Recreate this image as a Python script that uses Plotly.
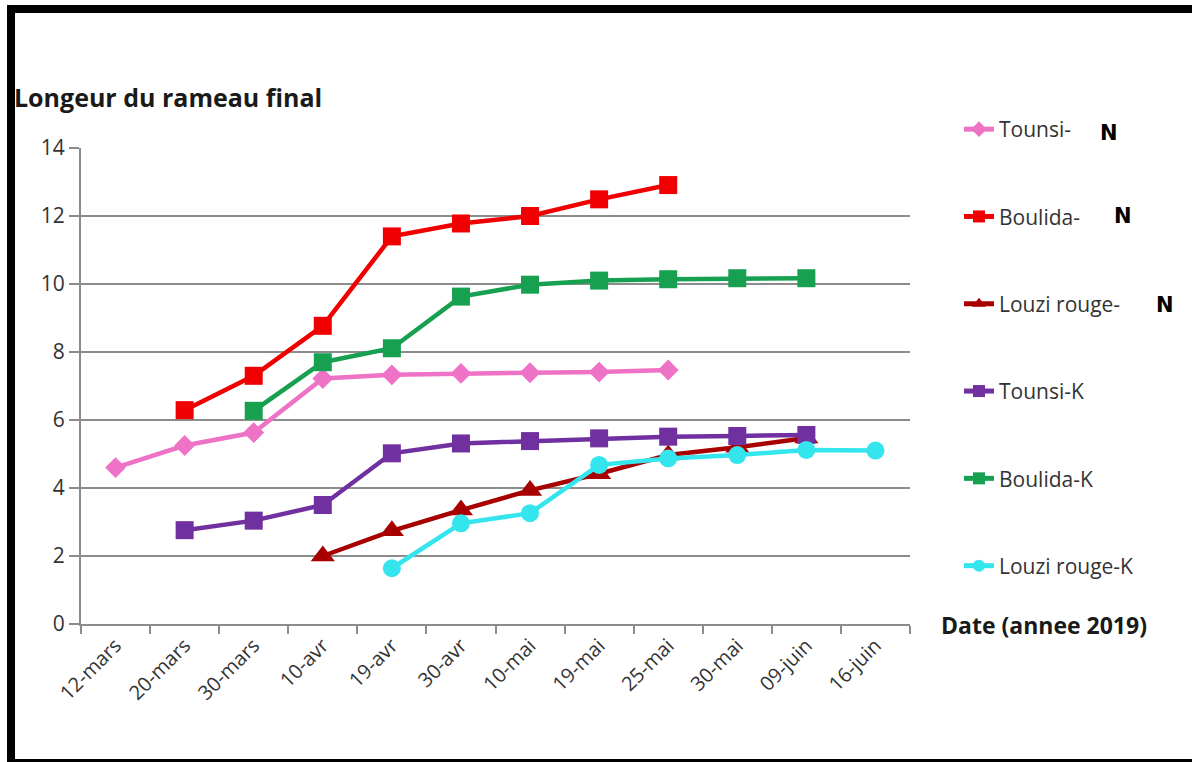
import plotly.graph_objects as go

categories = ["12-mars", "20-mars", "30-mars", "10-avr", "19-avr", "30-avr",
              "10-mai", "19-mai", "25-mai", "30-mai", "09-juin", "16-juin"]

tounsi_n = [4.6, 5.25, 5.63, 7.22, 7.33, 7.37, 7.39, 7.41, 7.47, None, None, None]
boulida_n = [None, 6.29, 7.3, 8.77, 11.4, 11.78, 12.0, 12.49, 12.91, None, None, None]
louzi_n = [None, None, None, 2.0, 2.74, 3.35, 3.93, 4.42, 4.97, 5.2, 5.47, None]
tounsi_k = [None, 2.76, 3.04, 3.5, 5.02, 5.31, 5.38, 5.46, 5.51, 5.53, 5.56, None]
boulida_k = [None, None, 6.27, 7.7, 8.11, 9.63, 9.98, 10.1, 10.14, 10.17, 10.17, None]
louzi_k = [None, None, None, None, 1.64, 2.96, 3.26, 4.68, 4.87, 4.97, 5.12, 5.1]

series = [
    ("Tounsi-", tounsi_n, "#EE72C6", "diamond", 16),
    ("Boulida-", boulida_n, "#F00000", "square", 18),
    ("Louzi rouge-", louzi_n, "#A80000", "triangle-up", 21),
    ("Tounsi-K", tounsi_k, "#7030A0", "square", 18),
    ("Boulida-K", boulida_k, "#16A050", "square", 18),
    ("Louzi rouge-K", louzi_k, "#35E5EE", "circle", 18),
]

FONT = "Open Sans"

fig = go.Figure()
for i, (name, vals, col, sym, sz) in enumerate(series):
    fig.add_trace(go.Scatter(
        x=categories, y=vals, name=name, mode="lines+markers",
        line=dict(color=col, width=4.5),
        marker=dict(symbol=sym, size=sz, color=col, line=dict(width=0)),
        legendgroup=f"g{i}", connectgaps=False,
    ))

# Plot-area pixel geometry
L, R, T, B = 81, 910, 148, 624
W, H = R - L, B - T


def px(x):
    return (x - L) / W


def py(y):
    return (B - y) / H


shapes = [
    dict(type="rect", xref="paper", yref="paper", x0=px(7), x1=px(1192), y0=py(5), y1=py(13),
         fillcolor="black", line=dict(width=0)),
    dict(type="rect", xref="paper", yref="paper", x0=px(7), x1=px(15), y0=py(5), y1=py(762),
         fillcolor="black", line=dict(width=0)),
    dict(type="rect", xref="paper", yref="paper", x0=px(7), x1=px(1192), y0=py(759), y1=py(762),
         fillcolor="black", line=dict(width=0)),
]

annotations = [
    dict(text="<b>Longeur du rameau final</b>", xref="paper", yref="paper",
         x=px(12), y=py(97), xanchor="left", yanchor="middle", showarrow=False,
         font=dict(family=FONT, size=25, color="#1a1a1a")),
    dict(text="<b>Date (annee 2019)</b>", xref="paper", yref="paper",
         x=px(939), y=py(625), xanchor="left", yanchor="middle", showarrow=False,
         font=dict(family=FONT, size=23, color="#1a1a1a")),
    dict(text="<b>N</b>", xref="paper", yref="paper", x=px(1109), y=py(133),
         xanchor="center", yanchor="middle", showarrow=False,
         font=dict(family="DejaVu Sans", size=21, color="black")),
    dict(text="<b>N</b>", xref="paper", yref="paper", x=px(1123), y=py(216),
         xanchor="center", yanchor="middle", showarrow=False,
         font=dict(family="DejaVu Sans", size=21, color="black")),
    dict(text="<b>N</b>", xref="paper", yref="paper", x=px(1165), y=py(305),
         xanchor="center", yanchor="middle", showarrow=False,
         font=dict(family="DejaVu Sans", size=21, color="black")),
]

fig.update_layout(
    width=1192, height=762,
    margin=dict(l=L, r=1192 - R, t=T, b=762 - B, autoexpand=False),
    paper_bgcolor="white", plot_bgcolor="white",
    font=dict(family=FONT, size=20, color="#333333"),
    showlegend=True,
    legend=dict(x=px(959), y=py(109), xanchor="left", yanchor="top",
                font=dict(family=FONT, size=21, color="#333333"),
                tracegroupgap=57, itemsizing="constant", bgcolor="rgba(0,0,0,0)",
                maxheight=700),
    shapes=shapes, annotations=annotations,
)
fig.update_xaxes(type="category", categoryorder="array", categoryarray=categories,
                 range=[-0.5, 11.5], showgrid=False, showline=True, linecolor="#8c8c8c",
                 linewidth=2, ticks="outside", tickson="boundaries", ticklen=8,
                 tickcolor="#8c8c8c", tickwidth=1.5, tickangle=-45,
                 tickfont=dict(family=FONT, size=20, color="#333333"), zeroline=False)
fig.update_yaxes(range=[0, 14], dtick=2, showgrid=True, gridcolor="#8c8c8c", gridwidth=1.5,
                 showline=True, linecolor="#8c8c8c", linewidth=2, ticks="outside",
                 ticklen=10, tickcolor="#8c8c8c", tickwidth=1.5,
                 tickfont=dict(family=FONT, size=21, color="#333333"), zeroline=False)

fig.write_html("out.html")
